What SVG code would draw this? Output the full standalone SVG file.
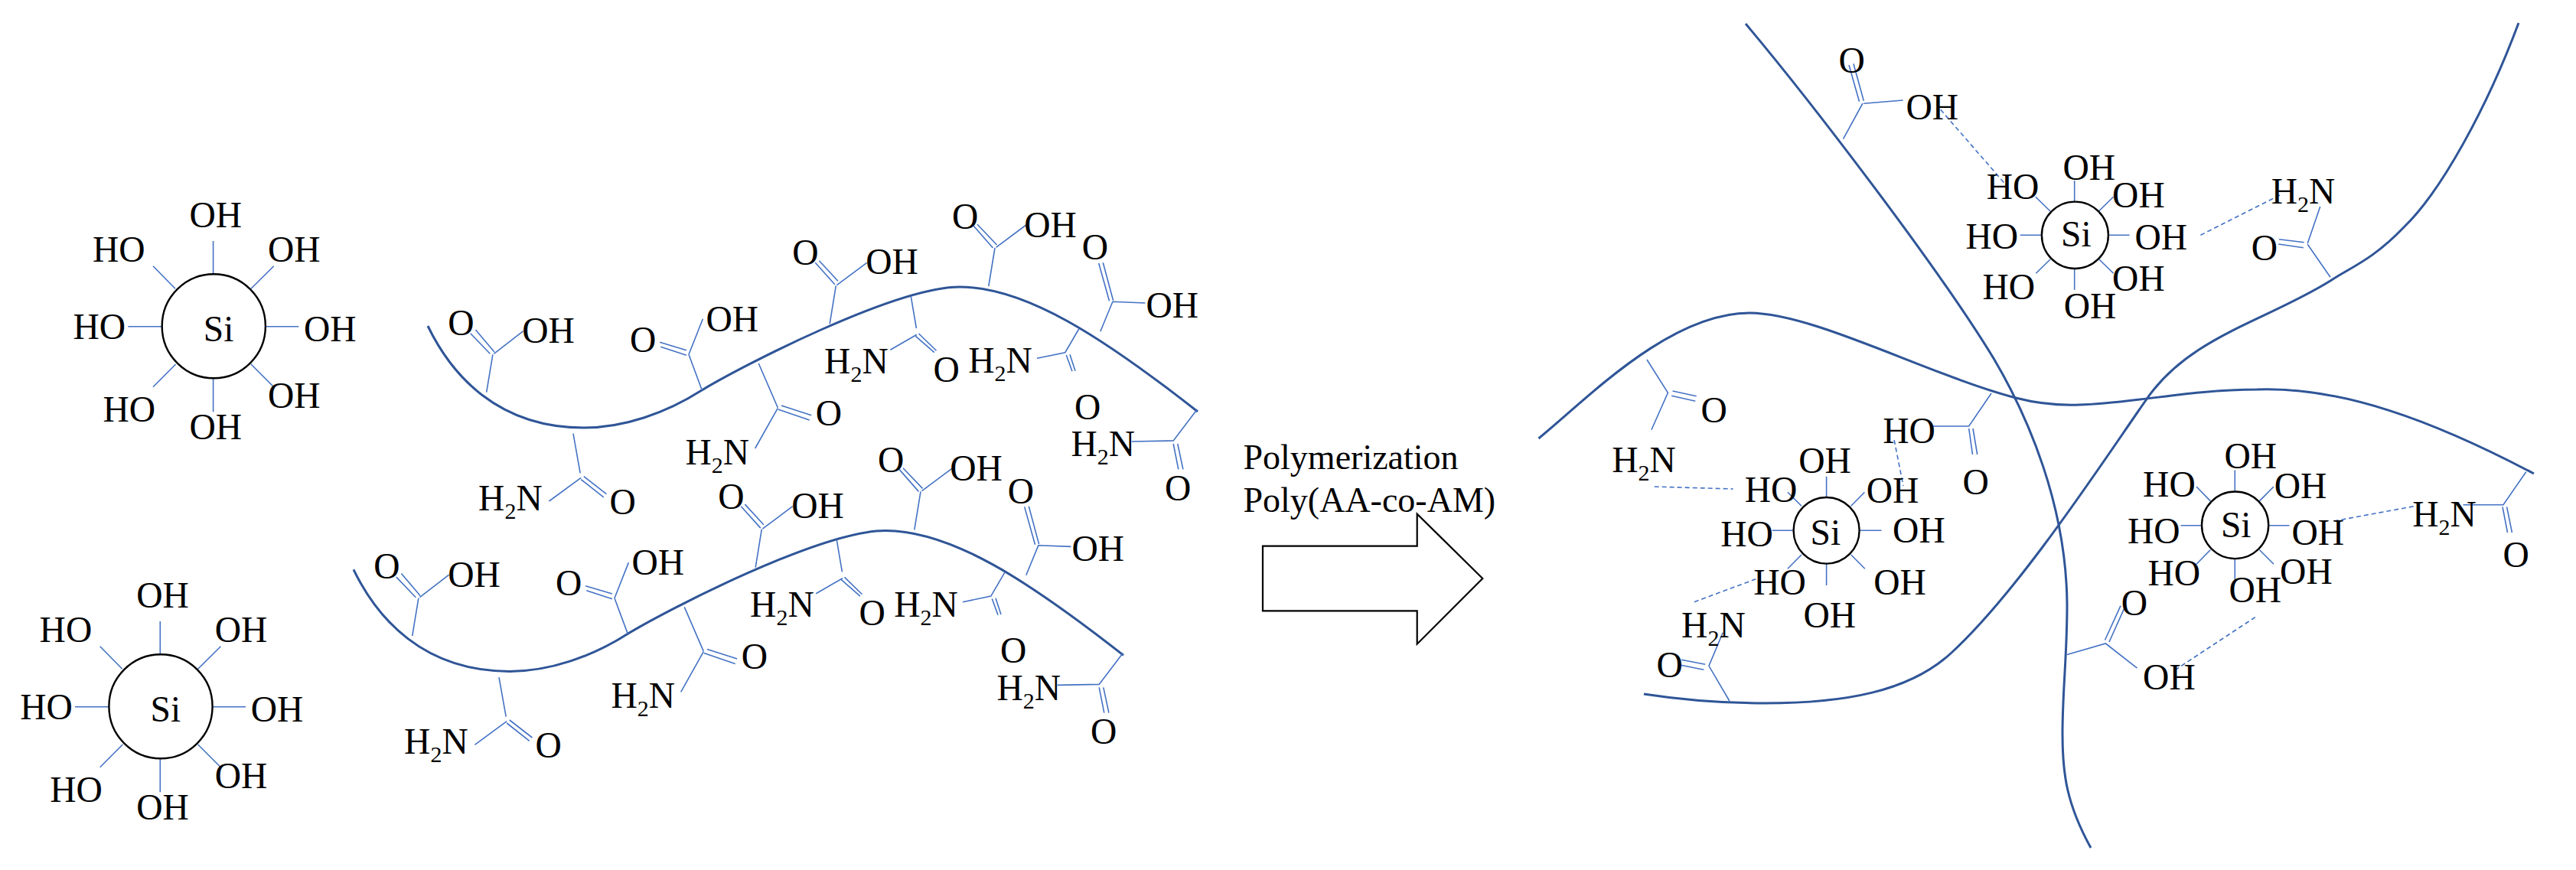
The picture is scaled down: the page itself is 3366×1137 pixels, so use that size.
<svg xmlns="http://www.w3.org/2000/svg" width="3366" height="1137" viewBox="0 0 3366 1137">
<style>
text{font-family:"Liberation Serif","Times New Roman",serif;font-size:47.5px;fill:#000;transform:translate(-1.5px,.7px)}
.s{font-size:30px}
.b{fill:none;stroke:#4472c4;stroke-width:1.6}
.d{fill:none;stroke:#4472c4;stroke-width:1.6;stroke-dasharray:6 4}
.c{fill:none;stroke:#2f5597;stroke-width:3}
.e{fill:#fff;stroke:#000;stroke-width:2.4}
</style>
<rect width="3366" height="1137" fill="#fff"/>
<g id="si-a">
<path class="b" d="M278.6 315V358.3M200 347.7L229 377.3M357.7 347.7L328 377.3M167.3 426.7H211.2M347 426.7H390.3M229.6 476L200 505.7M328 476L357.7 505.7M278.6 494.3V538.3"/>
<ellipse class="e" cx="279.3" cy="426.3" rx="67.6" ry="68"/>
<text x="267.3" y="445">Si</text><text x="249" y="296.7">OH</text><text x="122.4" y="341.3">HO</text><text x="351.5" y="341">OH</text><text x="97" y="442.7">HO</text><text x="398.5" y="445">OH</text><text x="136" y="550.7">HO</text><text x="249" y="573.3">OH</text><text x="351.5" y="532.3">OH</text>
</g>
<g id="si-b" transform="translate(-69.3 497)">
<path class="b" d="M278.6 315V358.3M200 347.7L229 377.3M357.7 347.7L328 377.3M167.3 426.7H211.2M347 426.7H390.3M229.6 476L200 505.7M328 476L357.7 505.7M278.6 494.3V538.3"/>
<ellipse class="e" cx="279.3" cy="426.3" rx="67.6" ry="68"/>
<text x="267.3" y="445">Si</text><text x="249" y="296.7">OH</text><text x="122.4" y="341.3">HO</text><text x="351.5" y="341">OH</text><text x="97" y="442.7">HO</text><text x="398.5" y="445">OH</text><text x="136" y="550.7">HO</text><text x="249" y="573.3">OH</text><text x="351.5" y="532.3">OH</text>
</g>
<g id="chain-a">
<path class="c" d="M559 426C590 490 650 559 763 559C815 559 870 540 917 510C970 478 1170 375 1254 375C1340 375 1440 440 1565 538"/>
<path class="b" d="M635.7 512.7L643.9 463.3M640.3 462.3L614.8 435.7M646 460L621.4 431M645.4 462.3L683.7 432.7"/>
<text x="586.7" y="437.3">O</text><text x="683.7" y="447.7">OH</text>
<path class="b" d="M749 566.7L758.2 618.3M759.2 624.3L717.4 655M762.8 622.6L792.4 645.6M759.2 626.6L788.8 649.9"/>
<text x="626.6" y="665.9">H<tspan class="s" dy="11">2</tspan><tspan dy="-11">N</tspan></text><text x="798" y="670.9">O</text>
<path class="b" d="M917.3 510L900 463.3M862.2 447.3L896.9 457.7M863.3 453.3L896.9 464.3M900 463.3L918.4 416.7"/>
<text x="824.5" y="459">O</text><text x="924" y="432">OH</text>
<path class="b" d="M991.3 475L1016.3 532.7M1021 530L1060.2 542.7M1016.8 535L1057.7 549M1016.3 533.3L986.7 586"/>
<text x="1067.3" y="555">O</text><text x="896.9" y="606">H<tspan class="s" dy="11">2</tspan><tspan dy="-11">N</tspan></text>
<path class="b" d="M1084.2 423.3L1092.3 373.3M1070.4 340.7L1094.9 367.3M1065.3 343.3L1090.8 371.7M1093.4 372.7L1132.7 343.3"/>
<text x="1036.7" y="345.7">O</text><text x="1132.7" y="357.7">OH</text>
<path class="b" d="M1190.3 387.3L1197.4 429M1200.5 436L1223.5 458.3M1196.4 439.3L1220.9 460.7M1198 437.3L1163.3 457.3"/>
<text x="1078.6" y="487.3">H<tspan class="s" dy="11">2</tspan><tspan dy="-11">N</tspan></text><text x="1220.9" y="498.3">O</text>
<path class="b" d="M1291.8 374L1300 324M1277 293.3L1302.5 320M1272 295L1297.4 324M1301.5 323.3L1340.8 294"/>
<text x="1245.4" y="298.3">O</text><text x="1339.8" y="309">OH</text>
<path class="b" d="M1437.8 433.3L1454 394M1435.7 344L1449.5 393.3M1441.3 343.3L1454.6 392.7M1454 394.3L1496.4 396"/>
<text x="1415.3" y="338.7">O</text><text x="1499" y="414.3">OH</text>
<path class="b" d="M1409.7 430L1391.8 460.7L1355 468.3M1393.3 464L1401 485.3M1398 463.3L1405 484.7"/>
<text x="1266.8" y="486.7">H<tspan class="s" dy="11">2</tspan><tspan dy="-11">N</tspan></text><text x="1405.6" y="547.3">O</text>
<path class="b" d="M1564.3 535L1533.2 576L1478.6 577M1533.2 580L1539.8 613.3M1538.8 580L1545.9 613.3"/>
<text x="1401" y="595.7">H<tspan class="s" dy="11">2</tspan><tspan dy="-11">N</tspan></text><text x="1523.5" y="653.3">O</text>
</g>
<g id="chain-b" transform="translate(-97 318.4)">
<path class="c" d="M559 426C590 490 650 559 763 559C815 559 870 540 917 510C970 478 1170 375 1254 375C1340 375 1440 440 1565 538"/>
<path class="b" d="M635.7 512.7L643.9 463.3M640.3 462.3L614.8 435.7M646 460L621.4 431M645.4 462.3L683.7 432.7"/>
<text x="586.7" y="437.3">O</text><text x="683.7" y="447.7">OH</text>
<path class="b" d="M749 566.7L758.2 618.3M759.2 624.3L717.4 655M762.8 622.6L792.4 645.6M759.2 626.6L788.8 649.9"/>
<text x="626.6" y="665.9">H<tspan class="s" dy="11">2</tspan><tspan dy="-11">N</tspan></text><text x="798" y="670.9">O</text>
<path class="b" d="M917.3 510L900 463.3M862.2 447.3L896.9 457.7M863.3 453.3L896.9 464.3M900 463.3L918.4 416.7"/>
<text x="824.5" y="459">O</text><text x="924" y="432">OH</text>
<path class="b" d="M991.3 475L1016.3 532.7M1021 530L1060.2 542.7M1016.8 535L1057.7 549M1016.3 533.3L986.7 586"/>
<text x="1067.3" y="555">O</text><text x="896.9" y="606">H<tspan class="s" dy="11">2</tspan><tspan dy="-11">N</tspan></text>
<path class="b" d="M1084.2 423.3L1092.3 373.3M1070.4 340.7L1094.9 367.3M1065.3 343.3L1090.8 371.7M1093.4 372.7L1132.7 343.3"/>
<text x="1036.7" y="345.7">O</text><text x="1132.7" y="357.7">OH</text>
<path class="b" d="M1190.3 387.3L1197.4 429M1200.5 436L1223.5 458.3M1196.4 439.3L1220.9 460.7M1198 437.3L1163.3 457.3"/>
<text x="1078.6" y="487.3">H<tspan class="s" dy="11">2</tspan><tspan dy="-11">N</tspan></text><text x="1220.9" y="498.3">O</text>
<path class="b" d="M1291.8 374L1300 324M1277 293.3L1302.5 320M1272 295L1297.4 324M1301.5 323.3L1340.8 294"/>
<text x="1245.4" y="298.3">O</text><text x="1339.8" y="309">OH</text>
<path class="b" d="M1437.8 433.3L1454 394M1435.7 344L1449.5 393.3M1441.3 343.3L1454.6 392.7M1454 394.3L1496.4 396"/>
<text x="1415.3" y="338.7">O</text><text x="1499" y="414.3">OH</text>
<path class="b" d="M1409.7 430L1391.8 460.7L1355 468.3M1393.3 464L1401 485.3M1398 463.3L1405 484.7"/>
<text x="1266.8" y="486.7">H<tspan class="s" dy="11">2</tspan><tspan dy="-11">N</tspan></text><text x="1405.6" y="547.3">O</text>
<path class="b" d="M1564.3 535L1533.2 576L1478.6 577M1533.2 580L1539.8 613.3M1538.8 580L1545.9 613.3"/>
<text x="1401" y="595.7">H<tspan class="s" dy="11">2</tspan><tspan dy="-11">N</tspan></text><text x="1523.5" y="653.3">O</text>
</g>
<g id="reaction">
<text x="1626" y="612.7" style="font-size:46px">Polymerization</text>
<text x="1626" y="668" style="font-size:46px">Poly(AA-co-AM)</text>
<path d="M1650 713.7H1851.7V671.7L1937.3 756L1851.7 841.7V798.3H1650Z" fill="#fff" stroke="#000" stroke-width="2.2"/>
</g>
<g id="connectors">
<path class="c" d="M2281 31C2360 125 2530 345 2606 470C2650 545 2700 660 2701 790C2701 860 2695 900 2695 960C2695 1010 2700 1050 2732 1108"/>
<path class="c" d="M3291 30C3250 140 3190 250 3141 297C3100 340 3070 350 3045 367C2960 420 2860 440 2804 523C2750 600 2640 770 2550 853C2495 904 2410 919 2306 919C2250 919 2200 915 2148 907"/>
<path class="c" d="M2010.5 573C2070 525 2180 409 2286 409C2370 409 2520 490 2634 520C2665 528 2690 530 2717 529C2780 528 2860 509 2949 509C3060 505 3180 550 3311 619"/>
<path class="d" d="M2535.7 143.3L2624 245M2875.4 307.3L2980.4 254.3M2161.7 636L2264.6 639M2475.1 575L2487 635M2213.9 786.7L2294.3 756.7M2841.8 875.8L2946.8 806.6M3049.5 681L3156.8 661.2"/>
</g>
<g id="si-1">
<path class="b" d="M2710.7 236V263.7M2761.6 257.3L2742.4 276M2755.4 307.3H2782.6M2742.9 339L2761.6 357.3M2710.7 351V378.7M2659.8 257.3L2679 276M2679 339L2660.3 357.3M2639.7 307.3H2667.4"/>
<ellipse class="e" cx="2711.4" cy="307.3" rx="43.5" ry="43.7"/>
<text x="2694.6" y="321.7">Si</text><text x="2696.9" y="234.3">OH</text><text x="2761.6" y="270">OH</text><text x="2791" y="325">OH</text><text x="2761.6" y="379.3">OH</text><text x="2698.2" y="415.7">OH</text><text x="2597.3" y="259">HO</text><text x="2570" y="324">HO</text><text x="2592" y="390.7">HO</text>
</g>
<g id="si-2">
<path class="b" d="M2386.6 622.7V650M2436.4 643.3L2418.7 661.3M2430.6 693.3H2458.4M2418.7 725L2436.8 743.3M2386.6 736.7V765M2354 725L2335.9 743.3M2315.8 693.3H2342.6M2335.9 643.3L2354 661.3"/>
<ellipse class="e" cx="2386.6" cy="693.3" rx="43" ry="43.3"/>
<text x="2367" y="711.7">Si</text><text x="2351.7" y="617.3">OH</text><text x="2281.3" y="655">HO</text><text x="2440.2" y="656.7">OH</text><text x="2249.8" y="713.3">HO</text><text x="2474.6" y="708.3">OH</text><text x="2292.8" y="776.7">HO</text><text x="2449.8" y="776.7">OH</text><text x="2357.9" y="819.3">OH</text>
</g>
<g id="si-3">
<path class="b" d="M2920.3 614.4V642.5M2971 636L2952.3 654.9M2965 686.7H2991.5M2952.3 718.5L2971 737.3M2920.3 730V757.9M2888.4 718.5L2870 737.3M2849.5 686.7H2876.5M2870 636L2888.4 654.9"/>
<ellipse class="e" cx="2920.6" cy="686.3" rx="43.6" ry="43.8"/>
<text x="2903.4" y="701">Si</text><text x="2908" y="611.8">OH</text><text x="2801.6" y="648.5">HO</text><text x="2973.3" y="650">OH</text><text x="2781.5" y="709.2">HO</text><text x="2996" y="711">OH</text><text x="2808" y="764.6">HO</text><text x="2980.6" y="762.4">OH</text><text x="2914" y="786">OH</text>
</g>
<g id="acid-top">
<path class="b" d="M2408.5 181.7L2434 135M2416 85L2429.5 132.7M2421.9 83.3L2435.3 131.7M2435.3 135.3L2486.6 131"/>
<text x="2404" y="94">O</text><text x="2492" y="155">OH</text>
</g>
<g id="amide-top">
<path class="b" d="M3045 362.3L3015.2 319.3M3015.2 318.3L3031.7 270M2978 312.7L3010.7 316.7M2977.2 319L3009.8 323.7"/>
<text x="2943.3" y="339">O</text><text x="2969.2" y="265">H<tspan class="s" dy="11">2</tspan><tspan dy="-11">N</tspan></text>
</g>
<g id="amide-left">
<path class="b" d="M2152 470L2179.4 513.3L2157.9 561.7M2185.6 511L2216.7 517.7M2184.2 517.3L2215.3 524.3"/>
<text x="2224" y="551.7">O</text><text x="2107.7" y="616.7">H<tspan class="s" dy="11">2</tspan><tspan dy="-11">N</tspan></text>
</g>
<g id="acid-center">
<path class="b" d="M2602 514L2572.7 557H2524.9M2572.7 560L2577.5 594M2578 560L2583.7 594"/>
<text x="2461.7" y="578.7">HO</text><text x="2566" y="645">O</text>
</g>
<g id="amide-lower">
<path class="b" d="M2259.8 916L2233 870.3L2251.2 826.7M2197.1 862.3L2228.2 868.3M2196.2 869.3L2226.3 875.3"/>
<text x="2166" y="884">O</text><text x="2198.6" y="832.7">H<tspan class="s" dy="11">2</tspan><tspan dy="-11">N</tspan></text>
</g>
<g id="acid-lower">
<path class="b" d="M2701.1 855.6L2751.4 841L2792.5 873.2M2750.5 836.5L2771 791.6M2756 839L2775.6 795.3"/>
<text x="2773.3" y="803.6">O</text><text x="2801.6" y="900.2">OH</text>
</g>
<g id="amide-right">
<path class="b" d="M3300.7 616.7L3271 659.7H3218.5M3270 662.4L3276.5 696M3275.6 662.4L3282.4 696"/>
<text x="3153.7" y="687.8">H<tspan class="s" dy="11">2</tspan><tspan dy="-11">N</tspan></text><text x="3271.9" y="740.3">O</text>
</g>
</svg>
